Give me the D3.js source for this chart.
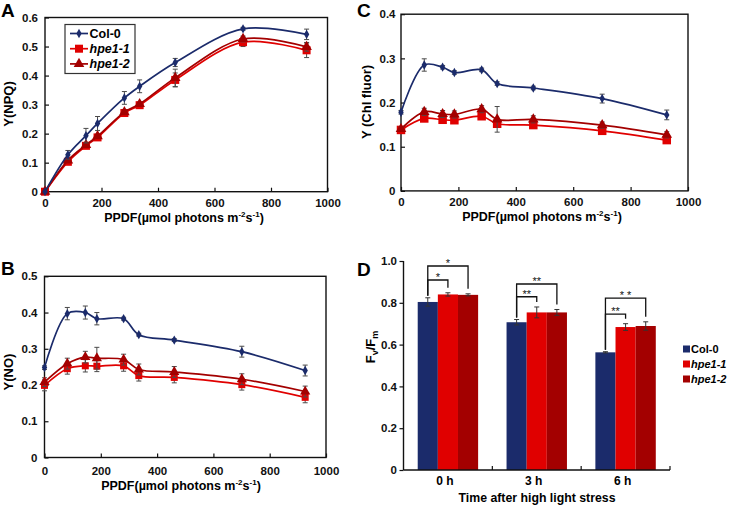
<!DOCTYPE html>
<html><head><meta charset="utf-8">
<script src="https://cdn.jsdelivr.net/npm/d3@7"></script>
<style>
body{margin:0;background:#fff}
svg{display:block;font-family:"Liberation Sans",Arial,sans-serif;font-weight:bold}
</style>
</head><body>
<svg id="c" width="730" height="505"></svg>
<script>
// ---------- DATA ----------
const ppfd = [0, 81, 145, 186, 281, 335, 461, 701, 926];
const seriesNames = ["Col-0", "hpe1-1", "hpe1-2"];
const xTicks = [0, 200, 400, 600, 800, 1000];

// Panel A: Y(NPQ)
const npqCol0     = [0, 0.127, 0.193, 0.235, 0.323, 0.363, 0.445, 0.561, 0.542];
const npqCol0Err  = [0, 0.015, 0.025, 0.024, 0.022, 0.022, 0.014, 0.005, 0.018];
const npqHpe11    = [0, 0.103, 0.158, 0.187, 0.271, 0.298, 0.385, 0.515, 0.487];
const npqHpe11Err = [0, 0.006, 0.006, 0.006, 0.006, 0.006, 0.024, 0.015, 0.025];
const npqHpe12    = [0, 0.108, 0.161, 0.191, 0.274, 0.302, 0.392, 0.526, 0.499];
const npqHpe12Err = [0, 0.006, 0.006, 0.006, 0.006, 0.006, 0.030, 0.010, 0.015];
const npqTicks = [0, 0.1, 0.2, 0.3, 0.4, 0.5, 0.6];

// Panel B: Y(NO)
const noCol0     = [0.248, 0.397, 0.400, 0.383, 0.383, 0.339, 0.324, 0.292, 0.240];
const noCol0Err  = [0.005, 0.017, 0.018, 0.017, 0.004, 0.004, 0.004, 0.015, 0.015];
const noHpe11    = [0.199, 0.245, 0.253, 0.252, 0.253, 0.226, 0.221, 0.201, 0.166];
const noHpe11Err = [0.015, 0.015, 0.017, 0.015, 0.015, 0.015, 0.015, 0.015, 0.015];
const noHpe12    = [0.208, 0.259, 0.277, 0.274, 0.270, 0.243, 0.236, 0.216, 0.182];
const noHpe12Err = [0.012, 0.015, 0.016, 0.030, 0.015, 0.015, 0.015, 0.015, 0.015];
const noTicks = [0, 0.1, 0.2, 0.3, 0.4, 0.5];

// Panel C: Y(Chl fluor)
const chlCol0     = [0.178, 0.285, 0.280, 0.268, 0.274, 0.243, 0.233, 0.209, 0.172];
const chlCol0Err  = [0.004, 0.014, 0.004, 0.004, 0.004, 0.004, 0.004, 0.010, 0.011];
const chlHpe11    = [0.138, 0.164, 0.161, 0.160, 0.169, 0.152, 0.149, 0.136, 0.115];
const chlHpe11Err = [0.005, 0.006, 0.006, 0.006, 0.006, 0.006, 0.006, 0.006, 0.006];
const chlHpe12    = [0.140, 0.179, 0.174, 0.173, 0.185, 0.162, 0.162, 0.149, 0.127];
const chlHpe12Err = [0.005, 0.008, 0.008, 0.008, 0.008, 0.029, 0.008, 0.007, 0.007];
const chlTicks = [0, 0.1, 0.2, 0.3, 0.4];

// Panel D: Fv/Fm
const timeCats = ["0 h", "3 h", "6 h"];
const fvfmCol0     = [0.804, 0.707, 0.563];
const fvfmCol0Err  = [0.020, 0.013, 0.003];
const fvfmHpe11    = [0.840, 0.754, 0.684];
const fvfmHpe11Err = [0.008, 0.026, 0.016];
const fvfmHpe12    = [0.838, 0.754, 0.689];
const fvfmHpe12Err = [0.005, 0.014, 0.020];
const fvfmTicks = [0, 0.2, 0.4, 0.6, 0.8, 1.0];
const sigCats    = [0, 0, 1, 1, 2, 2];
const sigTargets = [1, 2, 1, 2, 1, 2];
const sigLevels  = [0.909, 0.976, 0.829, 0.890, 0.746, 0.822];
const sigLabels  = ["*", "*", "**", "**", "**", "* *"];

// ---------- STYLE ----------
const colors = ["#1b2b6b", "#e00000", "#a30000"];
const TICK_FS = 11.5, TITLE_FS = 12.5;
const svg = d3.select("#c");

function axisTitleX(g, x, y) {
  const t = g.append("text").attr("x", x).attr("y", y).attr("text-anchor", "middle")
    .attr("font-size", TITLE_FS);
  t.append("tspan").text("PPDF(µmol photons m");
  t.append("tspan").attr("dy", -5).attr("font-size", 8).text("-2");
  t.append("tspan").attr("dy", 5).text("s");
  t.append("tspan").attr("dy", -5).attr("font-size", 8).text("-1");
  t.append("tspan").attr("dy", 5).text(")");
}

function marker(sel, idx, size) {
  if (idx === 0) {
    sel.append("path").attr("d", d3.symbol(d3.symbolDiamond, size * 5)());
  } else if (idx === 1) {
    sel.append("rect").attr("x", -size / 2 - 0.5).attr("y", -size / 2 - 0.5)
      .attr("width", size + 1).attr("height", size + 1);
  } else {
    sel.append("path").attr("d", d3.symbol(d3.symbolTriangle, size * 6.5)());
  }
}

function styleAxis(sel) {
  sel.selectAll("text").attr("font-size", TICK_FS).attr("font-family", "Liberation Sans, Arial")
    .attr("font-weight", "bold").attr("fill", "#111");
  sel.selectAll("line").attr("stroke", "#111").attr("stroke-width", 1.2);
}

function linePanel(o) {
  const g = svg.append("g");
  const x = d3.scaleLinear().domain([0, 1000]).range([o.left, o.right]);
  const y = d3.scaleLinear().domain([0, o.ymax]).range([o.bottom, o.top]);
  g.append("rect").attr("x", o.left).attr("y", o.top)
    .attr("width", o.right - o.left).attr("height", o.bottom - o.top)
    .attr("fill", "none").attr("stroke", "#111").attr("stroke-width", 1.4);
  const ya = d3.axisLeft(y).tickValues(o.yticks).tickSize(-4).tickPadding(o.ypad)
    .tickFormat(d => d === 0 ? "0" : d3.format(".1f")(d));
  const yg = g.append("g").attr("transform", `translate(${o.left},0)`).call(ya);
  yg.select(".domain").remove();
  styleAxis(yg);
  const xa = d3.axisBottom(x).tickValues(xTicks).tickSize(-4).tickPadding(o.xpad).tickFormat(d3.format("d"));
  const xg = g.append("g").attr("transform", `translate(0,${o.bottom})`).call(xa);
  xg.select(".domain").remove();
  styleAxis(xg);

  const line = d3.line().x((d, i) => x(ppfd[i])).y(d => y(d)).curve(d3.curveCatmullRom.alpha(0.5));
  [1, 2, 0].forEach(si => {
    const vals = o.series[si], errs = o.errs[si];
    g.append("path").datum(vals).attr("d", line).attr("fill", "none")
      .attr("stroke", colors[si]).attr("stroke-width", 1.7);
    const eb = g.append("g").attr("stroke", "#4a4a4a").attr("stroke-width", 1);
    vals.forEach((v, i) => {
      if (errs[i] <= 0) return;
      const cx = x(ppfd[i]);
      eb.append("line").attr("x1", cx).attr("x2", cx).attr("y1", y(v - errs[i])).attr("y2", y(v + errs[i]));
      eb.append("line").attr("x1", cx - 2.5).attr("x2", cx + 2.5).attr("y1", y(v - errs[i])).attr("y2", y(v - errs[i]));
      eb.append("line").attr("x1", cx - 2.5).attr("x2", cx + 2.5).attr("y1", y(v + errs[i])).attr("y2", y(v + errs[i]));
    });
    const mg = g.append("g").attr("fill", colors[si]);
    vals.forEach((v, i) => {
      const m = mg.append("g").attr("transform", `translate(${x(ppfd[i])},${y(v)})`);
      marker(m, si, o.msize[si]);
    });
  });
  axisTitleX(g, o.xTitleX, o.xTitleY);
  g.append("text").attr("transform", `translate(${o.yTitleX},${o.yTitleY}) rotate(-90)`)
    .attr("text-anchor", "middle").attr("font-size", 13).text(o.yTitle);
  g.append("text").attr("x", o.letterX).attr("y", o.letterY).attr("font-size", 19).text(o.letter);
  return { g, x, y };
}

// Panel A
const A = linePanel({
  left: 45, right: 327.5, top: 17.5, bottom: 191.7, ymax: 0.6, yticks: npqTicks, ypad: 7, xpad: 7.5,
  series: [npqCol0, npqHpe11, npqHpe12], errs: [npqCol0Err, npqHpe11Err, npqHpe12Err],
  msize: [5, 7, 7.5],
  xTitleX: 184, xTitleY: 221.5, yTitle: "Y(NPQ)", yTitleX: 12.5, yTitleY: 104,
  letter: "A", letterX: 1, letterY: 17
});
{
  const lg = A.g.append("g");
  lg.append("rect").attr("x", 65).attr("y", 24.5).attr("width", 70).attr("height", 49)
    .attr("fill", "#fff").attr("stroke", "#333").attr("stroke-width", 1.2);
  seriesNames.forEach((s, i) => {
    const yy = 33.5 + i * 15.2;
    lg.append("line").attr("x1", 70).attr("x2", 88).attr("y1", yy).attr("y2", yy)
      .attr("stroke", colors[i]).attr("stroke-width", 1.7);
    const m = lg.append("g").attr("fill", colors[i]).attr("transform", `translate(79,${yy})`);
    marker(m, i, [5, 7, 7.5][i]);
    lg.append("text").attr("x", 89.5).attr("y", yy).attr("dy", "0.36em").attr("font-size", 12.5)
      .attr("font-style", i === 0 ? "normal" : "italic").text(s);
  });
}

// Panel B
linePanel({
  left: 44.5, right: 326, top: 276.3, bottom: 457.5, ymax: 0.5, yticks: noTicks, ypad: 7, xpad: 9,
  series: [noCol0, noHpe11, noHpe12], errs: [noCol0Err, noHpe11Err, noHpe12Err],
  msize: [5, 6, 7],
  xTitleX: 181, xTitleY: 490, yTitle: "Y(NO)", yTitleX: 12.5, yTitleY: 372,
  letter: "B", letterX: 1, letterY: 275
});

// Panel C
linePanel({
  left: 401, right: 688, top: 14.2, bottom: 190.9, ymax: 0.4, yticks: chlTicks, ypad: 5.5, xpad: 7,
  series: [chlCol0, chlHpe11, chlHpe12], errs: [chlCol0Err, chlHpe11Err, chlHpe12Err],
  msize: [5, 7.5, 7.5],
  xTitleX: 542, xTitleY: 220.5, yTitle: "Y (Chl fluor)", yTitleX: 371, yTitleY: 102,
  letter: "C", letterX: 357, letterY: 17
});

// Panel D
{
  const g = svg.append("g");
  const left = 403.5, right = 670, top = 261, bottom = 470;
  const xb = d3.scaleBand().domain(timeCats).range([left, right]).padding(0);
  const xs = d3.scaleBand().domain([0, 1, 2]).range([xb.bandwidth() * 0.16, xb.bandwidth() * 0.84]).padding(0);
  const y = d3.scaleLinear().domain([0, 1.0]).range([bottom, top]);
  const vals = [fvfmCol0, fvfmHpe11, fvfmHpe12];
  const errs = [fvfmCol0Err, fvfmHpe11Err, fvfmHpe12Err];

  timeCats.forEach((c, ci) => {
    [0, 1, 2].forEach(si => {
      g.append("rect").attr("x", xb(c) + xs(si)).attr("y", y(vals[si][ci]))
        .attr("width", xs.bandwidth()).attr("height", y(0) - y(vals[si][ci]))
        .attr("fill", colors[si]);
    });
  });
  const eb = g.append("g").attr("stroke", "#333").attr("stroke-width", 1);
  timeCats.forEach((c, ci) => {
    [0, 1, 2].forEach(si => {
      const cx = xb(c) + xs(si) + xs.bandwidth() / 2;
      const v = vals[si][ci], e = errs[si][ci];
      eb.append("line").attr("x1", cx).attr("x2", cx).attr("y1", y(v - e)).attr("y2", y(v + e));
      eb.append("line").attr("x1", cx - 2.5).attr("x2", cx + 2.5).attr("y1", y(v - e)).attr("y2", y(v - e));
      eb.append("line").attr("x1", cx - 2.5).attr("x2", cx + 2.5).attr("y1", y(v + e)).attr("y2", y(v + e));
    });
  });
  const ya = d3.axisLeft(y).tickValues(fvfmTicks).tickSize(4).tickPadding(2.5)
    .tickFormat(d => d === 0 ? "0" : d3.format(".1f")(d));
  const yg = g.append("g").attr("transform", `translate(${left},0)`).call(ya);
  yg.select(".domain").attr("stroke", "#111").attr("stroke-width", 1.4).attr("d", `M0,${top}V${bottom}`);
  styleAxis(yg);
  g.append("line").attr("x1", left).attr("x2", right).attr("y1", bottom).attr("y2", bottom)
    .attr("stroke", "#111").attr("stroke-width", 1.4);
  timeCats.forEach((c, ci) => {
    if (ci > 0) g.append("line").attr("x1", xb(c)).attr("x2", xb(c)).attr("y1", bottom).attr("y2", bottom - 4)
      .attr("stroke", "#111").attr("stroke-width", 1.2);
    g.append("text").attr("x", xb(c) + xb.bandwidth() / 2 - 3).attr("y", bottom + 14.5)
      .attr("text-anchor", "middle").attr("font-size", 12).text(c);
  });
  g.append("line").attr("x1", right).attr("x2", right).attr("y1", bottom).attr("y2", bottom - 4)
    .attr("stroke", "#111").attr("stroke-width", 1.2);
  g.append("text").attr("x", 537).attr("y", 501.5).attr("text-anchor", "middle").attr("font-size", 12.3)
    .text("Time after high light stress");
  const yt = g.append("text").attr("transform", `translate(375,347) rotate(-90)`)
    .attr("text-anchor", "middle").attr("font-size", 13);
  yt.append("tspan").text("F");
  yt.append("tspan").attr("dy", 3).attr("font-size", 9).text("v");
  yt.append("tspan").attr("dy", -3).text("/F");
  yt.append("tspan").attr("dy", 3).attr("font-size", 9).text("m");
  g.append("text").attr("x", 357).attr("y", 276).attr("font-size", 19).text("D");

  const bk = g.append("g").attr("stroke", "#111").attr("stroke-width", 1.3).attr("fill", "none");
  sigCats.forEach((ci, k) => {
    const c = timeCats[ci];
    const x0 = xb(c) + xs(0) + xs.bandwidth() / 2;
    const t = sigTargets[k];
    const x1 = xb(c) + xs(t) + xs.bandwidth() / 2;
    const yTop = y(sigLevels[k]);
    const y0 = y(vals[0][ci] + errs[0][ci]) - 2;
    const y1 = y(vals[t][ci] + errs[t][ci]) - 5;
    bk.append("path").attr("d", `M${x0},${y0}V${yTop}H${x1}V${y1}`);
    g.append("text").attr("x", (x0 + x1) / 2).attr("y", yTop + 1).attr("text-anchor", "middle")
      .attr("font-size", 11).attr("font-weight", "normal").attr("fill", "#111").text(sigLabels[k]);
  });

  seriesNames.forEach((s, i) => {
    const yy = 349 + i * 15;
    g.append("rect").attr("x", 683).attr("y", yy - 3.5).attr("width", 7).attr("height", 7).attr("fill", colors[i]);
    g.append("text").attr("x", 691).attr("y", yy).attr("dy", "0.36em").attr("font-size", 11)
      .attr("font-style", i === 0 ? "normal" : "italic").text(s);
  });
}
</script>
</body></html>
